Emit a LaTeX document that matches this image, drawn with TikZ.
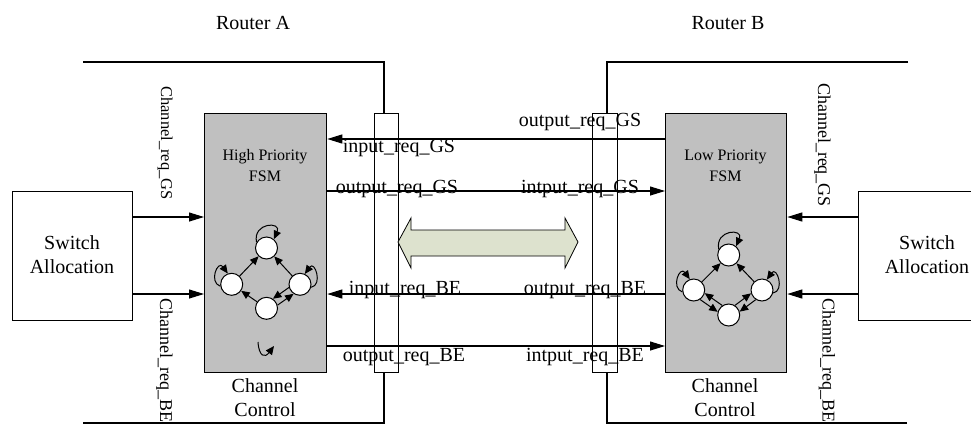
\documentclass[tikz,border=0pt]{standalone}
\usepackage{fontspec}
\setmainfont{Liberation Serif}
\usetikzlibrary{arrows.meta}
\definecolor{fsmgray}{RGB}{192,192,192}
\definecolor{linkfill}{RGB}{221,226,206}
\begin{document}
\begin{tikzpicture}[x=1pt,y=-1pt,
  every node/.style={inner sep=0pt},
  wire/.style={line width=1.1pt},
  bigarr/.style={line width=1.1pt,-{Triangle[length=15pt,width=9pt]}},
  smarr/.style={line width=1pt,-{Triangle[length=8.5pt,width=7.5pt]}},
  fsmbox/.style={draw,line width=1.3pt,fill=fsmgray,minimum width=122pt,minimum height=259pt,anchor=north west},
  swbox/.style={draw,line width=1.1pt,fill=white,minimum width=120pt,minimum height=129pt,anchor=north west},
  portbar/.style={draw,line width=1.1pt,fill=white,minimum width=24pt,minimum height=259pt,anchor=north west},
  st/.style={circle,draw,line width=1pt,fill=white,minimum size=22pt},
  lbl/.style={font=\fontsize{20}{24}\selectfont},
  sig/.style={font=\fontsize{20}{24}\selectfont},
  chan/.style={font=\fontsize{18}{22}\selectfont,rotate=-90},
  title/.style={font=\fontsize{16}{21}\selectfont,align=center}]
\useasboundingbox (0,0) rectangle (971,424);
\clip (0,0) rectangle (971,424);

% routers' titles
\node[lbl] (rA) at (253,23) {Router A};
\node[lbl] (rB) at (728,23) {Router B};

% boxes
\node[swbox] (swA) at (12,191) {};
\node[swbox, minimum width=130pt] (swB) at (858,191) {};
\node[lbl,align=center] (swAt) at (72,255) {Switch\\Allocation};
\node[lbl,align=center] (swBt) at (927,255) {Switch\\Allocation};

\node[fsmbox] (fsmA) at (204,113) {};
\node[fsmbox, minimum width=121pt] (fsmB) at (665,113) {};
\node[title] (fsmAt) at (265,166) {High Priority\\FSM};
\node[title] (fsmBt) at (725.5,166) {Low Priority\\FSM};
\node[lbl,align=center] (ccA) at (265,398) {Channel\\Control};
\node[lbl,align=center] (ccB) at (725,398) {Channel\\Control};

\node[portbar] (barA) at (374,113) {};
\node[portbar, minimum width=25pt] (barB) at (592,113) {};

% link arrow between the routers
\draw[line width=0.8pt, fill=linkfill]
  (398,242) -- (411,218) -- (411,230) -- (565,230) -- (565,218) -- (578,242)
  -- (565,268) -- (565,256) -- (411,256) -- (411,268) -- cycle;

% router frames
\coordinate (ftA) at (83,62);
\coordinate (fbA) at (83,423);
\coordinate (ftB) at (908,62);
\coordinate (fbB) at (907,423);
\coordinate (pA) at (384,0);
\coordinate (pB) at (607,0);
\draw[wire] (ftA) -| (barA.north -| pA);
\draw[wire] (fbA) -| (barA.south -| pA);
\draw[wire] (ftB) -| (barB.north -| pB);
\draw[wire] (fbB) -| (barB.south -| pB);

% request levels
\coordinate (yGSi) at (0,139);
\coordinate (yGSo) at (0,191);
\coordinate (yBEi) at (0,294);
\coordinate (yBEo) at (0,346);
\coordinate (ySw) at (0,217);

\draw[bigarr] (fsmB.west |- yGSi) -- (fsmA.east |- yGSi);
\draw[bigarr] (fsmA.east |- yGSo) -- (fsmB.west |- yGSo);
\draw[bigarr] (fsmB.west |- yBEi) -- (fsmA.east |- yBEi);
\draw[bigarr] (fsmA.east |- yBEo) -- (fsmB.west |- yBEo);

\draw[bigarr] (swA.east |- ySw) -- (fsmA.west |- ySw);
\draw[bigarr] (swA.east |- yBEi) -- (fsmA.west |- yBEi);
\draw[bigarr] (swB.west |- ySw) -- (fsmB.east |- ySw);
\draw[bigarr] (swB.west |- yBEi) -- (fsmB.east |- yBEi);

% signal names
\node[sig] (l1) at (399,148) {input\_req\_GS};
\node[sig] (l2) at (397,189) {output\_req\_GS};
\node[sig] (l3) at (405,290) {input\_req\_BE};
\node[sig] (l4) at (404,357) {output\_req\_BE};
\node[sig] (l5) at (580,122) {output\_req\_GS};
\node[sig] (l6) at (580,189) {intput\_req\_GS};
\node[sig] (l7) at (585,290) {output\_req\_BE};
\node[sig] (l8) at (585,357) {intput\_req\_BE};

\node[chan, font=\fontsize{16.5}{20}\selectfont] (c1) at (165,143) {Channel\_req\_GS};
\node[chan] (c2) at (164.5,360) {Channel\_req\_BE};
\node[chan] (c3) at (822.5,145) {Channel\_req\_GS};
\node[chan] (c4) at (827,360) {Channel\_req\_BE};

% state graph, high priority side
\node[st] (a1) at (266.5,248) {};
\node[st] (a2) at (231.7,284.3) {};
\node[st] (a3) at (300,284.3) {};
\node[st] (a4) at (266.5,308.3) {};
\draw[smarr] (a2) -- (a1);
\draw[smarr] (a3) -- (a1);
\draw[smarr] (a4) -- (a2);
\draw[smarr] (a3.196) -- (a4.56);
\draw[smarr] (a4.16) -- (a3.236);
\draw[smarr] (a1.150) .. controls +(-4,-20) and +(8,-18) .. (a1.50);
\draw[smarr] (a2.190) .. controls +(-12,-4) and +(-10,-14) .. (a2.110);
\draw[smarr] (a3.345) .. controls +(12,-2) and +(10,-14) .. (a3.65);
\draw[smarr] (258,342) .. controls (259,357) and (265,358) .. (274,346);

% state graph, low priority side
\node[st] (b1) at (728.7,255) {};
\node[st] (b2) at (693.7,290) {};
\node[st] (b3) at (762,290) {};
\node[st] (b4) at (728.7,315) {};
\draw[smarr] (b2) -- (b1);
\draw[smarr] (b3) -- (b1);
\draw[smarr] (b2.304) -- (b4.164);
\draw[smarr] (b4.124) -- (b2.344);
\draw[smarr] (b4.57) -- (b3.197);
\draw[smarr] (b3.237) -- (b4.17);
\draw[smarr] (b1.150) .. controls +(-4,-20) and +(8,-18) .. (b1.50);
\draw[smarr] (b2.190) .. controls +(-12,-4) and +(-10,-14) .. (b2.110);
\draw[smarr] (b3.345) .. controls +(12,-2) and +(10,-14) .. (b3.65);
\end{tikzpicture}
\end{document}
